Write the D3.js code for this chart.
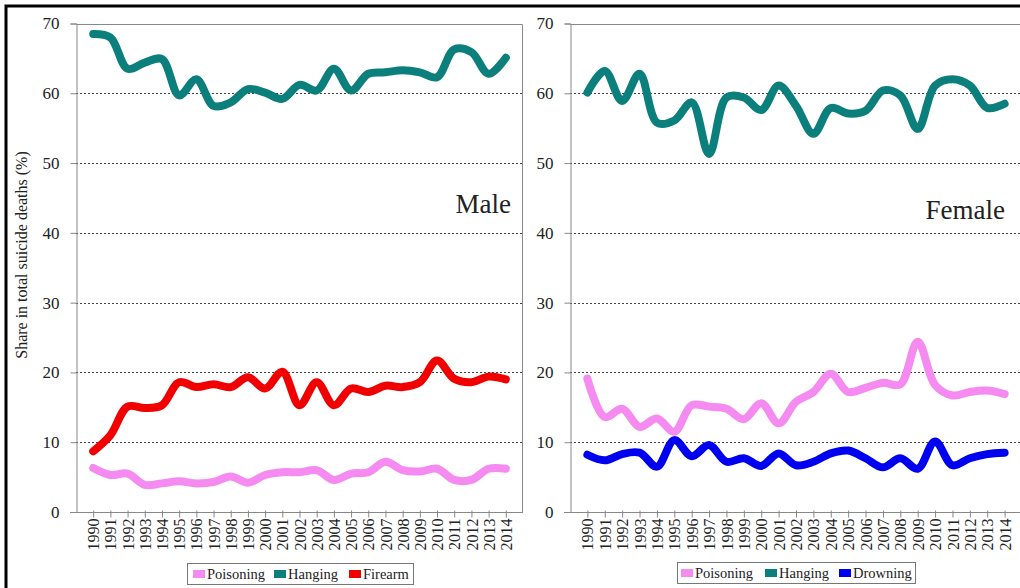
<!DOCTYPE html>
<html lang="en">
  <head>
    <meta charset="UTF-8">
    <title>Suicide methods by sex</title>
    <style>
      body { margin: 0; background: #fff; }
      svg text { font-family: "Liberation Serif", "Times New Roman", serif; fill: #222; }
    </style>
  </head>
  <body>
    <div id="chart-container"></div>
    <script src="https://d3js.org/d3.v7.min.js"></script>
    <script>
      // years on the x axis
      const years = d3.range(1990, 2015).map(String);

      // male series (share in total suicide deaths, %)
      const maleHanging = [68.5, 68.0, 63.5, 64.4, 64.9, 59.7, 62.0, 58.2, 58.7, 60.6, 60.1, 59.2, 61.2,
                           60.4, 63.5, 60.4, 62.8, 63.0, 63.3, 63.0, 62.3, 66.3, 65.9, 62.8, 65.1];
      const maleFirearm = [8.7, 11.0, 15.1, 14.9, 15.3, 18.6, 17.9, 18.3, 17.9, 19.3, 17.7, 20.1, 15.3,
                           18.6, 15.3, 17.7, 17.2, 18.1, 17.9, 18.6, 21.7, 19.1, 18.6, 19.4, 19.0];
      const malePoisoning = [6.3, 5.3, 5.5, 3.9, 4.1, 4.4, 4.1, 4.3, 5.1, 4.2, 5.3, 5.7, 5.7,
                             6.0, 4.6, 5.5, 5.7, 7.2, 6.0, 5.8, 6.2, 4.6, 4.6, 6.2, 6.2];

      // female series
      const femaleHanging = [60.1, 63.2, 58.9, 62.8, 55.8, 56.1, 58.7, 51.3, 59.4, 59.4, 57.6, 61.1, 58.2,
                             54.2, 57.9, 57.1, 57.5, 60.4, 59.7, 54.9, 61.1, 62.0, 61.1, 57.9, 58.5];
      const femalePoisoning = [19.1, 13.6, 14.8, 12.2, 13.4, 11.5, 15.3, 15.1, 14.8, 13.3, 15.6, 12.7, 15.8,
                               17.2, 19.8, 17.2, 17.8, 18.5, 18.3, 24.4, 18.2, 16.7, 17.2, 17.4, 16.9];
      const femaleDrowning = [8.2, 7.4, 8.3, 8.5, 6.5, 10.3, 8.0, 9.6, 7.2, 7.7, 6.6, 8.4, 6.7,
                              7.2, 8.4, 8.8, 7.7, 6.4, 7.7, 6.2, 10.1, 6.7, 7.7, 8.3, 8.5];

      const yTicks = [0, 10, 20, 30, 40, 50, 60, 70];

      const colors = {
        Poisoning: "#f58af0",
        Hanging: "#0b7f7b",
        Firearm: "#f00000",
        Drowning: "#0000f0"
      };

      const serif = "'Liberation Serif', 'Times New Roman', serif";

      const svg = d3.select("#chart-container")
        .append("svg")
        .attr("width", 1020)
        .attr("height", 588);

      // outer frame
      svg.append("path")
        .attr("d", "M6,600 L6,6 L1030,6")
        .attr("fill", "none")
        .attr("stroke", "#000")
        .attr("stroke-width", 3);

      // y axis title
      svg.append("text")
        .attr("transform", "translate(27,255) rotate(-90)")
        .attr("text-anchor", "middle")
        .style("font-size", "16px")
        .style("font-family", serif)
        .text("Share in total suicide deaths (%)");

      function drawPanel(opts) {
        const x = d3.scalePoint().domain(years).range([opts.left, opts.right]).padding(1);
        const y = d3.scaleLinear().domain([0, 70]).range([512, 23.5]);

        const g = svg.append("g");

        // dotted gridlines
        g.selectAll(".grid")
          .data(yTicks.filter(d => d > 0 && d < 70))
          .enter().append("line")
          .attr("x1", opts.left).attr("x2", opts.right)
          .attr("y1", d => Math.round(y(d)) + 0.5).attr("y2", d => Math.round(y(d)) + 0.5)
          .attr("stroke", "#444")
          .attr("stroke-dasharray", "2,2");

        // plot box: top and right
        g.append("path")
          .attr("d", "M" + opts.left + "," + (Math.round(y(70)) + 0.5) + " H" + (opts.right - 0.5) + " V512")
          .attr("fill", "none")
          .attr("stroke", "#888");

        // y axis
        const yAxis = g.append("g")
          .attr("transform", "translate(" + (opts.left + 0.5) + ",0)")
          .call(d3.axisLeft(y).tickValues(yTicks).tickSize(6).tickPadding(11));
        yAxis.selectAll("line, path").attr("stroke", "#888");
        yAxis.selectAll("text").style("font-size", "17px").style("font-family", serif).attr("fill", "#222");

        // x axis
        const xAxis = g.append("g")
          .attr("transform", "translate(0,512.5)")
          .call(d3.axisBottom(x).tickSize(5).tickSizeOuter(0));
        xAxis.select(".domain").attr("d", "M" + (opts.left - 6) + ",0H" + opts.right).attr("stroke", "#888");
        xAxis.selectAll("line").attr("stroke", "#888").attr("y1", -2);
        xAxis.selectAll("text")
          .attr("transform", "rotate(-90)")
          .attr("text-anchor", "end")
          .attr("x", -6)
          .attr("y", 0)
          .attr("dy", "0.35em")
          .style("font-size", "16px")
          .style("font-family", serif)
          .attr("fill", "#222");

        const line = d3.line()
          .x((d, i) => x(years[i]))
          .y(d => y(d))
          .curve(d3.curveCatmullRom.alpha(0.5));

        opts.series.forEach(s => {
          g.append("path")
            .datum(s.values)
            .attr("fill", "none")
            .attr("stroke", colors[s.name])
            .attr("stroke-width", 8)
            .attr("stroke-linecap", "round")
            .attr("stroke-linejoin", "round")
            .attr("d", line);
        });

        // panel label
        g.append("text")
          .attr("x", opts.labelX)
          .attr("y", opts.labelY)
          .attr("text-anchor", "end")
          .style("font-size", "27px")
          .style("font-family", serif)
          .text(opts.title);

        // legend
        const lg = g.append("g");
        lg.append("rect")
          .attr("x", opts.legend.x + 0.5).attr("y", opts.legend.y + 0.5)
          .attr("width", opts.legend.w).attr("height", 21)
          .attr("fill", "#fff")
          .attr("stroke", "#777");
        opts.series.slice().reverse().forEach((s, i) => {
          const lx = opts.legend.x + opts.legend.offsets[i];
          lg.append("rect")
            .attr("x", lx).attr("y", opts.legend.y + 7)
            .attr("width", 12).attr("height", 8)
            .attr("fill", colors[s.name]);
          lg.append("text")
            .attr("x", lx + 14).attr("y", opts.legend.y + 16)
            .style("font-size", "14.5px")
            .style("font-family", serif)
            .text(s.name);
        });
      }

      drawPanel({
        left: 76, right: 523, title: "Male", labelX: 511, labelY: 213,
        series: [
          { name: "Firearm", values: maleFirearm },
          { name: "Hanging", values: maleHanging },
          { name: "Poisoning", values: malePoisoning }
        ],
        legend: { x: 187, y: 563, w: 226, offsets: [6, 87, 162] }
      });

      drawPanel({
        left: 570, right: 1022, title: "Female", labelX: 1005, labelY: 219,
        series: [
          { name: "Drowning", values: femaleDrowning },
          { name: "Hanging", values: femaleHanging },
          { name: "Poisoning", values: femalePoisoning }
        ],
        legend: { x: 677, y: 562, w: 238, offsets: [4, 88, 162] }
      });
    </script>
  </body>
</html>
